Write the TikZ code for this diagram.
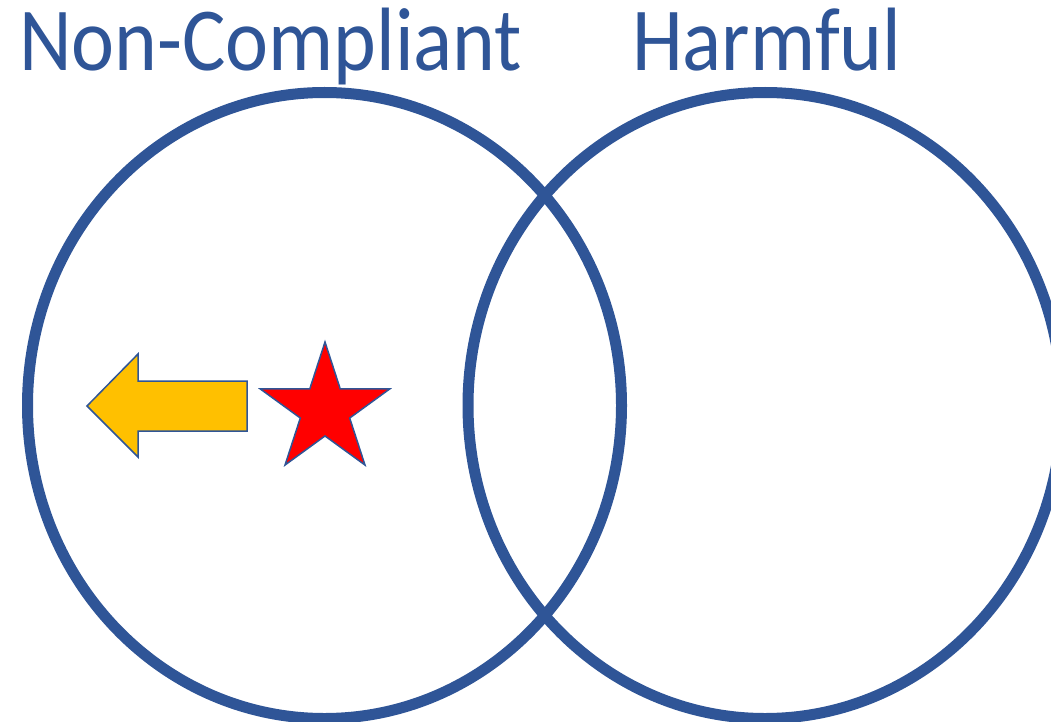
\documentclass[tikz,border=0pt]{standalone}
\usepackage{fontspec}
\setmainfont{Carlito}
\newfontfamily\titlefont[FakeStretch=0.905]{Carlito}
\usepackage{xcolor}
\usetikzlibrary{shapes.geometric}
\definecolor{setblue}{HTML}{2F5597}
\definecolor{arrowgold}{HTML}{FFC000}

\begin{document}
\begin{tikzpicture}[
	x=1pt, y=-1pt,
	% --- Styles ---
	setring/.style={
		ellipse, draw=setblue, line width=11pt,
		minimum width=594pt, minimum height=626pt, inner sep=0pt
	},
	settitle/.style={
		font=\titlefont\fontsize{90}{100}\selectfont, text=setblue, inner sep=0pt, anchor=base west
	},
	% Star marker
	markstar/.style={
		star, star points=5, star point ratio=2.618, minimum size=136pt,
		inner sep=0pt, fill=red, draw=setblue, line width=1.5pt
	},
	movearrow/.style={
		fill=arrowgold, draw=setblue, line width=1.5pt, line join=miter
	}
	]
	
	% --- 0. Page frame ---
	\useasboundingbox (0,0) rectangle (1051,722);
	
	% --- 1. The two sets ---
	\node [setring] (noncompliant) at (324.5,405.5) {};
	\node [setring] (harmful) at (765,405.5) {};
	
	% --- 2. Set titles ---
	\node [settitle] (noncompliant_title) at (19,71) {Non-Compliant};
	\node [settitle] (harmful_title) at (632,71) {Harmful};
	
	% --- 3. Star and the arrow moving left ---
	\node [markstar] (star) at (325,410) {};
	
	\coordinate (arrow_tip) at (87,406);
	\draw [movearrow] (arrow_tip) -- ++(51,-52) -- ++(0,27) -- ++(109,0)
		-- ++(0,50) -- ++(-109,0) -- ++(0,26) -- cycle;
	
\end{tikzpicture}
\end{document}
